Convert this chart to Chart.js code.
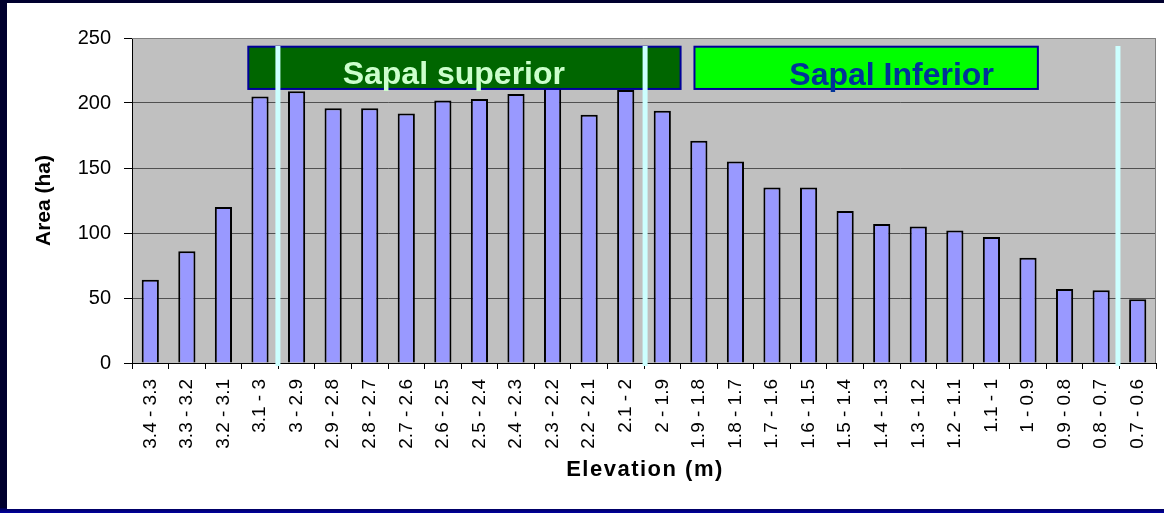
<!DOCTYPE html>
<html>
<head>
<meta charset="utf-8">
<title>Area by elevation</title>
<script src="https://cdn.jsdelivr.net/npm/chart.js@4/dist/chart.umd.min.js"></script>
<style>
  html, body { margin: 0; padding: 0; background: #00002e; }
  canvas { display: block; }
</style>
</head>
<body>
<canvas id="myChart" width="1164" height="513"></canvas>
<script>
// elevation classes (m) and area per class (ha)
const elevationClasses = ['3.4 - 3.3', '3.3 - 3.2', '3.2 - 3.1', '3.1 - 3', '3 - 2.9', '2.9 - 2.8',
  '2.8 - 2.7', '2.7 - 2.6', '2.6 - 2.5', '2.5 - 2.4', '2.4 - 2.3', '2.3 - 2.2', '2.2 - 2.1',
  '2.1 - 2', '2 - 1.9', '1.9 - 1.8', '1.8 - 1.7', '1.7 - 1.6', '1.6 - 1.5', '1.5 - 1.4',
  '1.4 - 1.3', '1.3 - 1.2', '1.2 - 1.1', '1.1 - 1', '1 - 0.9', '0.9 - 0.8', '0.8 - 0.7', '0.7 - 0.6'];
const areaHa = [64, 86, 120, 205, 209, 196, 196, 192, 202, 203, 207, 212, 191, 210,
  194, 171, 155, 135, 135, 117, 107, 105, 102, 97, 81, 57, 56, 49];
const yTicks = [0, 50, 100, 150, 200, 250];

// zone labels and limits, in axis units (category index / ha)
const zones = [
  { text: 'Sapal superior', x0: 2.68, x1: 14.5, y0: 210.8, y1: 243.3, textX: 8.3, textY: 215,
    fill: '#006600', color: '#ccffcc' },
  { text: 'Sapal Inferior', x0: 14.88, x1: 24.27, y0: 210.8, y1: 243.3, textX: 20.27, textY: 214,
    fill: '#00ff00', color: '#003399' }
];
const zoneLimits = [3.49, 13.53, 26.46];

const FONT = '"Liberation Sans", Arial, sans-serif';
const X_TITLE = 'Elevation (m)';

const framePlugin = {
  id: 'frame',
  beforeDraw(chart) {
    const ctx = chart.ctx;
    ctx.save();
    ctx.fillStyle = '#00002e';
    ctx.fillRect(0, 0, chart.width, chart.height);
    const g = ctx.createLinearGradient(0, chart.height - 5, 0, chart.height);
    g.addColorStop(0, '#000050');
    g.addColorStop(1, '#0000a0');
    ctx.fillStyle = g;
    ctx.fillRect(0, chart.height - 5, chart.width, 5);
    ctx.fillStyle = '#ffffff';
    ctx.fillRect(7, 3, chart.width - 7, chart.height - 7);
    const a = chart.chartArea;
    ctx.fillStyle = '#c0c0c0';
    ctx.fillRect(a.left, a.top, a.right - a.left, a.bottom - a.top);
    ctx.restore();
  },
  beforeDatasetsDraw(chart) {
    const ctx = chart.ctx;
    const a = chart.chartArea;
    ctx.save();
    ctx.strokeStyle = '#808080';
    ctx.lineWidth = 1;
    ctx.beginPath();
    ctx.moveTo(a.left, a.top + 0.5);
    ctx.lineTo(a.right - 0.5, a.top + 0.5);
    ctx.lineTo(a.right - 0.5, a.bottom);
    ctx.stroke();
    ctx.restore();
  },
  afterDraw(chart) {
    // x axis title, spaced out a little
    const ctx = chart.ctx;
    const a = chart.chartArea;
    ctx.save();
    ctx.font = 'bold 22px ' + FONT;
    ctx.letterSpacing = '1.5px';
    ctx.fillStyle = '#000000';
    ctx.textAlign = 'center';
    ctx.textBaseline = 'alphabetic';
    ctx.fillText(X_TITLE, (a.left + a.right) / 2 + 1, a.bottom + 113);
    ctx.restore();
  }
};

const zonePlugin = {
  id: 'zones',
  afterDatasetsDraw(chart) {
    const ctx = chart.ctx;
    const xs = chart.scales.x, ys = chart.scales.y;
    ctx.save();
    zones.forEach(z => {
      const l = xs.getPixelForValue(z.x0), r = xs.getPixelForValue(z.x1);
      const t = ys.getPixelForValue(z.y1), b = ys.getPixelForValue(z.y0);
      ctx.fillStyle = z.fill;
      ctx.fillRect(l, t, r - l, b - t);
      ctx.strokeStyle = '#000099';
      ctx.lineWidth = 2;
      ctx.strokeRect(l, t, r - l, b - t);
      ctx.fillStyle = z.color;
      ctx.font = 'bold 32px ' + FONT;
      ctx.textAlign = 'center';
      ctx.textBaseline = 'alphabetic';
      ctx.fillText(z.text, xs.getPixelForValue(z.textX), ys.getPixelForValue(z.textY));
    });
    ctx.strokeStyle = '#ccffff';
    ctx.lineWidth = 5;
    zoneLimits.forEach(v => {
      const x = xs.getPixelForValue(v);
      ctx.beginPath();
      ctx.moveTo(x, ys.getPixelForValue(243.8));
      ctx.lineTo(x, ys.getPixelForValue(0) + 3);
      ctx.stroke();
    });
    ctx.restore();
  }
};

const ctx = document.getElementById('myChart').getContext('2d');
const myChart = new Chart(ctx, {
  type: 'bar',
  data: {
    labels: elevationClasses,
    datasets: [{
      label: 'Area (ha)',
      data: areaHa,
      backgroundColor: '#9999ff',
      borderColor: '#000000',
      borderWidth: 2,
      borderSkipped: 'bottom',
      categoryPercentage: 1,
      barPercentage: 0.47
    }]
  },
  options: {
    responsive: false,
    animation: false,
    devicePixelRatio: 1,
    layout: { padding: { left: 7, top: 38, right: 8, bottom: 0 } },
    plugins: {
      legend: { display: false },
      tooltip: { enabled: false }
    },
    scales: {
      x: {
        offset: true,
        grid: { offset: true, drawOnChartArea: false, drawTicks: true, tickLength: 6, tickColor: '#000000' },
        border: { color: '#000000', width: 1 },
        ticks: {
          minRotation: 90, maxRotation: 90, autoSkip: false, padding: 10,
          color: '#000000', font: { family: FONT, size: 19 }
        },
        title: { display: false },
        afterFit(scale) {
          scale.height = 150;
          scale.paddingLeft = 0;
          scale.paddingRight = 0;
        }
      },
      y: {
        min: 0, max: 250,
        afterBuildTicks(scale) { scale.ticks = yTicks.map(v => ({ value: v })); },
        grid: {
          color: ctx => ctx.tick && ctx.tick.value === 250 ? '#909090' : '#505050',
          tickColor: '#000000', tickLength: 8, lineWidth: 1
        },
        border: { color: '#000000', width: 1 },
        ticks: { padding: 13, color: '#000000', font: { family: FONT, size: 20 } },
        title: {
          display: true, text: 'Area (ha)', color: '#000000',
          font: { family: FONT, size: 21, weight: 'bold' },
          padding: { top: 25, bottom: 0 }
        },
        afterFit(scale) {
          scale.width = 125;
          scale.paddingTop = 0;
          scale.paddingBottom = 0;
        }
      }
    }
  },
  plugins: [framePlugin, zonePlugin]
});
</script>
</body>
</html>
